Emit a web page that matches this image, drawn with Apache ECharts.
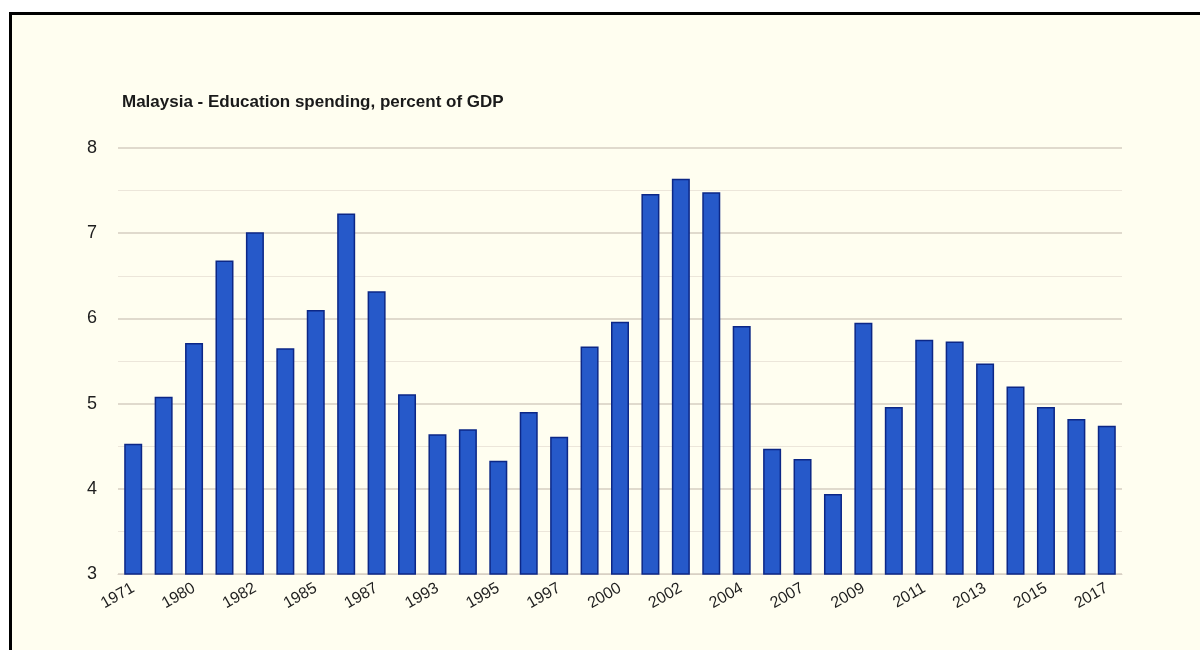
<!DOCTYPE html>
<html>
<head>
<meta charset="utf-8">
<script src="https://cdn.jsdelivr.net/npm/echarts@6/dist/echarts.min.js"></script>
<style>
  html, body { margin: 0; padding: 0; background: #ffffff; width: 1200px; height: 650px; overflow: hidden; }
  #frame { position: absolute; left: 9px; top: 12px; width: 1300px; height: 700px; background: #fffef0; border-left: 3px solid #000; border-top: 3px solid #000; }
  #chart { position: absolute; left: 0; top: 0; width: 1200px; height: 650px; }
</style>
</head>
<body>
<div id="frame"></div>
<div id="chart"></div>
<script>
const title = 'Malaysia - Education spending, percent of GDP';
const years = ['1971','1979','1980','1981','1982','1984','1985','1986','1987','1991','1993','1994','1995','1996','1997','1998','2000','2001','2002','2003','2004','2005','2007','2008','2009','2010','2011','2012','2013','2014','2015','2016','2017'];
const values = [4.53, 5.08, 5.71, 6.68, 7.01, 5.65, 6.10, 7.23, 6.32, 5.11, 4.64, 4.70, 4.33, 4.90, 4.61, 5.67, 5.96, 7.46, 7.64, 7.48, 5.91, 4.47, 4.35, 3.94, 5.95, 4.96, 5.75, 5.73, 5.47, 5.20, 4.96, 4.82, 4.74];
const yTicks = [3, 4, 5, 6, 7, 8];

const chart = echarts.init(document.getElementById('chart'), null, { renderer: 'canvas' });
chart.setOption({
  backgroundColor: 'transparent',
  animation: false,
  title: {
    text: title,
    left: 117, top: 89,
    textStyle: { fontFamily: 'Liberation Sans, Arial, sans-serif', fontSize: 17, fontWeight: 'bold', color: '#1a1a1a' }
  },
  grid: { left: 118, right: 78, top: 148, bottom: 76, containLabel: false },
  xAxis: {
    type: 'category',
    data: years,
    axisLine: { show: true, lineStyle: { color: '#d8d0c4', width: 1 } },
    axisTick: { show: false },
    axisLabel: {
      interval: 1,
      rotate: 30,
      margin: 13,
      fontFamily: 'Liberation Sans, Arial, sans-serif',
      fontSize: 16,
      color: '#1e1e1e'
    }
  },
  yAxis: {
    type: 'value',
    min: yTicks[0], max: yTicks[yTicks.length - 1], interval: 1,
    axisLine: { show: false },
    axisTick: { show: false },
    axisLabel: {
      margin: 21,
      fontFamily: 'Liberation Sans, Arial, sans-serif',
      fontSize: 18,
      color: '#1e1e1e'
    },
    splitLine: { show: true, lineStyle: { color: '#d6cec2', width: 1.5 } },
    minorTick: { show: false, splitNumber: 2 },
    minorSplitLine: { show: true, lineStyle: { color: '#ece6da', width: 1 } }
  },
  series: [{
    type: 'bar',
    data: values,
    barWidth: 18,
    itemStyle: { color: '#2659c9', borderColor: '#0c2786', borderWidth: 1.5 }
  }]
});
</script>
</body>
</html>
